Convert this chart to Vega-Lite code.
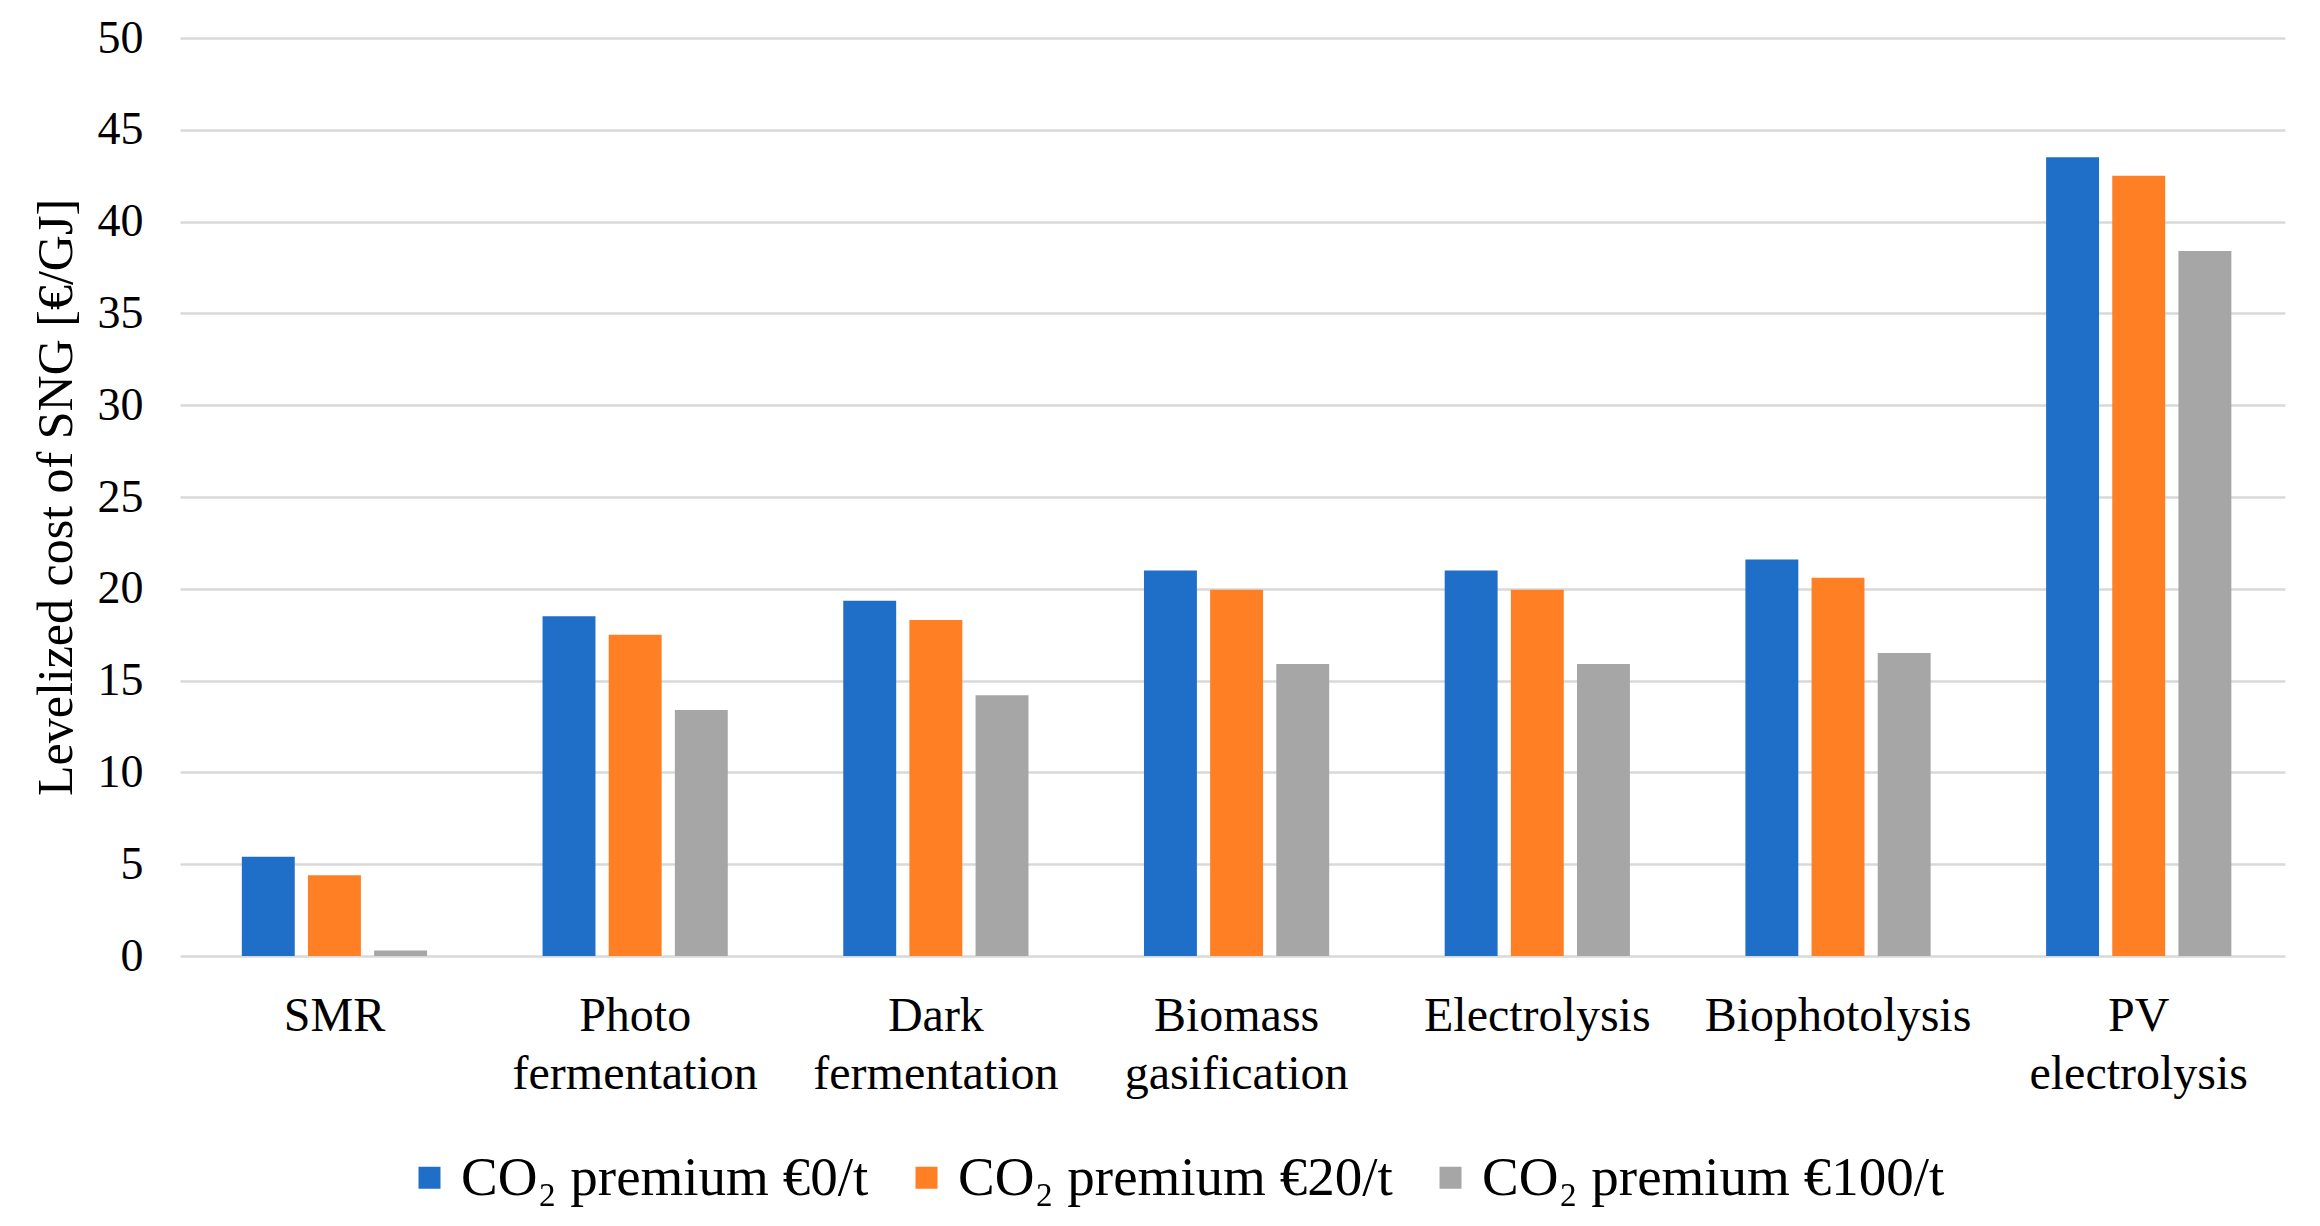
{
  "$schema": "https://vega.github.io/schema/vega-lite/v6.json",
  "width": 2105,
  "height": 918,
  "autosize": {"type": "none"},
  "padding": {"left": 180, "top": 38, "right": 35, "bottom": 270},
  "background": "white",
  "config": {"view": {"stroke": null}, "font": "Liberation Serif"},
  "data": {
    "values": [
      {"tech": "SMR", "scenario": "CO₂ premium €0/t", "value": 5.4},
      {"tech": "SMR", "scenario": "CO₂ premium €20/t", "value": 4.4},
      {"tech": "SMR", "scenario": "CO₂ premium €100/t", "value": 0.3},
      {"tech": "Photo fermentation", "scenario": "CO₂ premium €0/t", "value": 18.5},
      {"tech": "Photo fermentation", "scenario": "CO₂ premium €20/t", "value": 17.5},
      {"tech": "Photo fermentation", "scenario": "CO₂ premium €100/t", "value": 13.4},
      {"tech": "Dark fermentation", "scenario": "CO₂ premium €0/t", "value": 19.35},
      {"tech": "Dark fermentation", "scenario": "CO₂ premium €20/t", "value": 18.3},
      {"tech": "Dark fermentation", "scenario": "CO₂ premium €100/t", "value": 14.2},
      {"tech": "Biomass gasification", "scenario": "CO₂ premium €0/t", "value": 21.0},
      {"tech": "Biomass gasification", "scenario": "CO₂ premium €20/t", "value": 19.95},
      {"tech": "Biomass gasification", "scenario": "CO₂ premium €100/t", "value": 15.9},
      {"tech": "Electrolysis", "scenario": "CO₂ premium €0/t", "value": 21.0},
      {"tech": "Electrolysis", "scenario": "CO₂ premium €20/t", "value": 19.95},
      {"tech": "Electrolysis", "scenario": "CO₂ premium €100/t", "value": 15.9},
      {"tech": "Biophotolysis", "scenario": "CO₂ premium €0/t", "value": 21.6},
      {"tech": "Biophotolysis", "scenario": "CO₂ premium €20/t", "value": 20.6},
      {"tech": "Biophotolysis", "scenario": "CO₂ premium €100/t", "value": 16.5},
      {"tech": "PV electrolysis", "scenario": "CO₂ premium €0/t", "value": 43.5},
      {"tech": "PV electrolysis", "scenario": "CO₂ premium €20/t", "value": 42.5},
      {"tech": "PV electrolysis", "scenario": "CO₂ premium €100/t", "value": 38.4}
    ]
  },
  "mark": {"type": "bar"},
  "encoding": {
    "x": {
      "field": "tech",
      "type": "nominal",
      "sort": ["SMR", "Photo fermentation", "Dark fermentation", "Biomass gasification", "Electrolysis", "Biophotolysis", "PV electrolysis"],
      "scale": {"paddingInner": 0.34, "paddingOuter": 0.17, "align": 0.54},
      "axis": {
        "title": null,
        "labelAngle": 0,
        "labelExpr": "split(datum.value, ' ')",
        "labelFontSize": 48,
        "labelFont": "Liberation Serif",
        "labelColor": "#000000",
        "labelLineHeight": 58,
        "labelPadding": 36,
        "labelBaseline": "top",
        "ticks": false,
        "tickSize": 0,
        "domain": false,
        "grid": false,
        "labelLimit": 0
      }
    },
    "xOffset": {
      "field": "scenario",
      "type": "nominal",
      "sort": ["CO₂ premium €0/t", "CO₂ premium €20/t", "CO₂ premium €100/t"],
      "scale": {"paddingInner": 0.2, "paddingOuter": 0.1}
    },
    "y": {
      "field": "value",
      "type": "quantitative",
      "scale": {"domain": [0, 50], "nice": false},
      "axis": {
        "values": [0, 5, 10, 15, 20, 25, 30, 35, 40, 45, 50],
        "title": "Levelized cost of SNG [€/GJ]",
        "titleFontSize": 50,
        "titleFont": "Liberation Serif",
        "titleFontWeight": "normal",
        "titleColor": "#000000",
        "titlePadding": 16,
        "labelFontSize": 46,
        "labelFont": "Liberation Serif",
        "labelColor": "#000000",
        "labelPadding": 37,
        "ticks": false,
        "tickSize": 0,
        "domain": false,
        "gridColor": "#d9d9d9",
        "gridWidth": 2.5
      }
    },
    "color": {
      "field": "scenario",
      "type": "nominal",
      "scale": {
        "domain": ["CO₂ premium €0/t", "CO₂ premium €20/t", "CO₂ premium €100/t"],
        "range": ["#1F6EC8", "#FE7F24", "#A6A6A6"]
      },
      "legend": {
        "title": null,
        "orient": "none",
        "legendX": 222,
        "legendY": 1112,
        "direction": "horizontal",
        "symbolType": "square",
        "symbolSize": 484,
        "symbolStrokeWidth": 0,
        "labelFontSize": 55,
        "labelFont": "Liberation Serif",
        "labelColor": "#000000",
        "labelOffset": 4,
        "columnPadding": 30,
        "labelLimit": 0
      }
    }
  }
}
